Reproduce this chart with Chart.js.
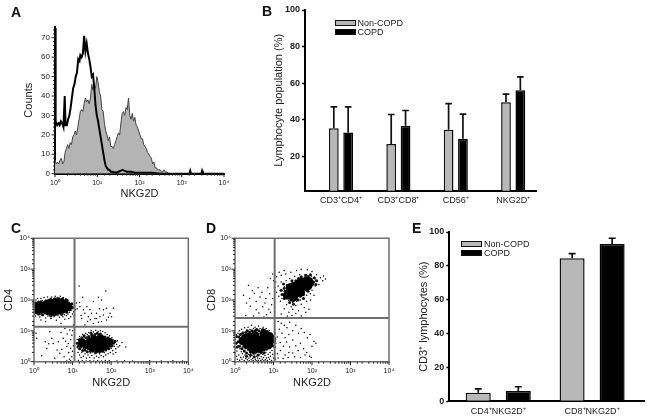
<!DOCTYPE html>
<html>
<head>
<meta charset="utf-8">
<title>NKG2D</title>
<script src="https://cdn.jsdelivr.net/npm/chart.js@4"></script>
<style>
    body { margin: 0; background: #fff; width: 648px; height: 420px; overflow: hidden; position: relative; font-family: "Liberation Sans", Arial, sans-serif; }
    canvas { position: absolute; }
    .letter { position: absolute; font-weight: bold; font-size: 14px; line-height: 14px; color: #111; }
    .swatch { position: absolute; width: 19px; border: 1px solid #111; }
    .legend-text { position: absolute; font-size: 9px; line-height: 10px; color: #222; }
</style>
</head>
<body>
<canvas id="chartA" width="240" height="210" style="left:0;top:0"></canvas>
<canvas id="chartB" width="310" height="215" style="left:250px;top:0"></canvas>
<canvas id="chartC" width="205" height="205" style="left:0;top:215px"></canvas>
<canvas id="chartD" width="200" height="205" style="left:205px;top:215px"></canvas>
<canvas id="chartE" width="243" height="205" style="left:405px;top:215px"></canvas>
<script>
'use strict'

const seriesNames = ['Non-COPD', 'COPD']
const decadeLabels = { 1: '10⁰', 10: '10¹', 100: '10²', 1000: '10³', 10000: '10⁴' }

// panel B
const categoriesB = ['CD3⁺CD4⁺', 'CD3⁺CD8⁺', 'CD56⁺', 'NKG2D⁺']
const nonCopdB = [35.3, 26.7, 34.5, 49.5]
const copdB = [32.9, 36.7, 29.6, 56.1]
const nonCopdErrB = [47, 42.8, 48.8, 54]
const copdErrB = [47, 45, 43, 63.4]

// panel E
const categoriesE = ['CD4⁺NKG2D⁺', 'CD8⁺NKG2D⁺']
const nonCopdE = [5.1, 84.5]
const copdE = [6.1, 92.9]
const nonCopdErrE = [7.3, 87.2]
const copdErrE = [8.6, 96.3]

// panel A, [log10 of NKG2D, counts]
const histShaded = [[0, 7], [0.03, 5], [0.06, 6], [0.09, 5], [0.12, 7], [0.15, 8], [0.18, 5], [0.21, 6], [0.24, 11], [0.27, 13], [0.3, 15], [0.33, 13], [0.36, 16], [0.39, 15], [0.42, 19], [0.45, 20], [0.48, 22], [0.51, 20], [0.54, 24], [0.57, 28], [0.6, 32], [0.63, 33], [0.66, 32], [0.69, 36], [0.72, 39], [0.75, 37], [0.78, 38], [0.81, 36], [0.84, 39], [0.87, 46], [0.9, 43], [0.93, 46], [0.96, 44], [0.99, 50], [1.02, 47], [1.05, 42], [1.08, 40], [1.11, 33], [1.14, 32], [1.17, 26], [1.2, 22], [1.23, 20], [1.26, 17], [1.29, 19], [1.32, 14], [1.35, 14], [1.38, 13], [1.41, 15], [1.44, 17], [1.47, 19], [1.5, 21], [1.53, 20], [1.56, 26], [1.59, 31], [1.62, 32], [1.65, 30], [1.68, 34], [1.71, 33], [1.74, 39], [1.77, 30], [1.8, 28], [1.83, 31], [1.86, 27], [1.89, 29], [1.92, 25], [1.95, 24], [1.98, 22], [2.01, 20], [2.04, 18], [2.07, 18], [2.1, 15], [2.13, 14], [2.16, 13], [2.19, 11], [2.22, 10], [2.25, 9], [2.28, 8], [2.31, 5], [2.34, 6], [2.37, 3], [2.4, 3], [2.43, 2], [2.46, 2], [2.49, 2], [2.52, 1], [2.55, 1], [2.58, 2], [2.61, 1], [2.64, 1], [2.7, 0], [4, 0]]
const histOpen = [[0, 75], [0.01, 50], [0.02, 27], [0.05, 25], [0.08, 26], [0.11, 25], [0.14, 27], [0.17, 26], [0.2, 24], [0.23, 40], [0.25, 25], [0.28, 25], [0.31, 28], [0.34, 30], [0.37, 34], [0.4, 39], [0.43, 44], [0.46, 46], [0.49, 50], [0.52, 52], [0.55, 59], [0.58, 58], [0.6, 61], [0.63, 60], [0.66, 62], [0.69, 71], [0.72, 63], [0.75, 67], [0.78, 62], [0.81, 59], [0.84, 55], [0.87, 50], [0.9, 51], [0.93, 44], [0.96, 35], [0.99, 30], [1.02, 27], [1.05, 23], [1.08, 19], [1.11, 15], [1.14, 11], [1.17, 7], [1.2, 4], [1.23, 3], [1.26, 2], [1.29, 2], [1.32, 1], [1.35, 1], [1.45, 0.5], [1.5, 1], [1.55, 1.5], [1.6, 2], [1.65, 1.5], [1.7, 1], [1.8, 1], [1.9, 0.5], [2, 0.5], [2.1, 0.5], [2.3, 0.5], [2.5, 0], [3.18, 0], [3.2, 1.5], [3.22, 0], [3.46, 0], [3.48, 1.5], [3.5, 0], [4, 0]]

// panels C and D, [log10 x, log10 y] in hundredths of a decade
const quadrantC = [105, 113]
const quadrantD = [103, 142]
const denseC = [[4, 170], [8, 175], [16, 170], [16, 182], [24, 172], [24, 180], [32, 170], [32, 182], [40, 165], [40, 178], [40, 190], [50, 165], [50, 178], [50, 190], [60, 168], [60, 180], [60, 192], [70, 170], [70, 182], [70, 192], [80, 172], [80, 185], [88, 178],
    [125, 62], [135, 55], [145, 65], [145, 50], [155, 72], [155, 60], [155, 46], [165, 70], [165, 58], [165, 44], [175, 72], [175, 60], [175, 46], [185, 65], [185, 52], [195, 64]]
const midC = [[2, 160], [3, 178], [4, 190], [8, 158], [10, 192], [14, 155], [18, 194], [20, 160], [26, 192], [28, 158], [34, 156], [36, 196], [42, 152], [44, 202], [48, 154], [54, 204], [56, 154], [62, 156], [64, 204], [68, 158], [74, 204], [76, 160], [82, 200], [85, 160], [90, 190], [92, 168], [96, 178], [98, 188], [94, 172], [30, 196], [12, 165], [6, 170], [72, 154], [52, 152], [44, 148], [86, 198], [100, 176], [22, 152], [38, 160], [66, 200],
    [112, 60], [115, 50], [118, 72], [118, 42], [122, 48], [124, 78], [126, 36], [130, 84], [132, 38], [136, 78], [138, 32], [142, 82], [146, 34], [150, 86], [152, 34], [158, 88], [160, 30], [168, 86], [170, 32], [176, 84], [178, 34], [184, 80], [186, 38], [192, 78], [194, 42], [200, 70], [202, 52], [206, 60], [198, 50], [210, 66], [130, 55], [120, 60], [128, 68], [190, 45], [148, 92], [164, 92], [172, 90]]
const dotsC = [[117, 245], [186, 229], [167, 209], [175, 200], [126, 209], [154, 195], [137, 178], [145, 168], [128, 168], [162, 157], [180, 168], [188, 173], [206, 173], [201, 146], [171, 146], [158, 140], [141, 146], [132, 157], [124, 140], [119, 178], [149, 157], [180, 151], [197, 157], [162, 140], [139, 130], [188, 135], [175, 130], [154, 124], [132, 119], [118, 192], [122, 150], [170, 172], [193, 144], [146, 136], [167, 128],
    [29, 65], [46, 76], [50, 59], [20, 19], [33, 43], [63, 65], [76, 76], [89, 59], [85, 49], [67, 27], [54, 11], [41, 97], [98, 86], [93, 103], [102, 119], [80, 108], [5, 92], [7, 76], [72, 40], [90, 30], [95, 44], [82, 66], [60, 38], [38, 58], [95, 72], [86, 90], [78, 16], [102, 52], [70, 95], [100, 100],
    [1, 168], [2, 155], [3, 185], [1, 192], [4, 148], [5, 200], [7, 160], [9, 205], [10, 152], [12, 196], [13, 158], [15, 145], [18, 205], [20, 156], [22, 198], [24, 150], [26, 208], [27, 160], [30, 142], [31, 200], [33, 155], [35, 210], [36, 148], [38, 202], [40, 150], [42, 206], [44, 140], [46, 210], [48, 152], [51, 204], [52, 146], [55, 212], [56, 150], [58, 134], [60, 208], [62, 150], [65, 206], [66, 144], [68, 212], [71, 150], [72, 204], [75, 146], [76, 208], [79, 152], [80, 138], [83, 204], [84, 150], [87, 198], [88, 155], [91, 192], [92, 160], [94, 188], [96, 166], [97, 180], [99, 172], [101, 185], [103, 162], [106, 178], [108, 168], [110, 190], [112, 172], [100, 155], [95, 146], [104, 148], [90, 140], [30, 130], [18, 135], [70, 125],
    [110, 60], [112, 45], [114, 30], [112, 72], [116, 55], [118, 22], [118, 82], [120, 40], [122, 66], [122, 14], [124, 30], [126, 88], [128, 18], [128, 42], [130, 78], [132, 26], [134, 92], [136, 12], [136, 34], [138, 88], [140, 22], [142, 95], [144, 14], [146, 28], [148, 100], [150, 20], [152, 34], [154, 96], [156, 12], [158, 26], [160, 102], [162, 18], [164, 30], [166, 98], [168, 14], [170, 26], [172, 100], [174, 20], [176, 32], [178, 98], [180, 16], [182, 30], [184, 94], [186, 22], [188, 36], [190, 88], [192, 26], [194, 40], [196, 84], [198, 30], [200, 44], [202, 78], [204, 36], [206, 70], [208, 50], [210, 62], [212, 42], [214, 56], [216, 68], [218, 48], [205, 25], [212, 30], [222, 52], [228, 62], [238, 48], [100, 34], [104, 22], [98, 16], [92, 8],
    [85, 2], [95, 3], [105, 2], [115, 4], [125, 3], [135, 2], [145, 3], [155, 2], [165, 3], [175, 2], [185, 4], [195, 3], [215, 2], [235, 3], [255, 2], [300, 3], [330, 2], [360, 3], [385, 2]]
const denseD = [[143, 222], [152, 209], [152, 232], [160, 222], [162, 249], [171, 238], [171, 259], [182, 259], [182, 245], [143, 241], [160, 238], [171, 225], [190, 262], [135, 215], [195, 255], [152, 245], [190, 245], [176, 250],
    [26, 76], [35, 65], [35, 81], [43, 54], [43, 76], [52, 49], [52, 68], [52, 86], [63, 54], [63, 70], [74, 54], [74, 72], [74, 90], [84, 65], [89, 83], [20, 68], [45, 40], [65, 42], [96, 72], [88, 55], [30, 55]]
const midD = [[122, 218], [128, 205], [130, 228], [134, 212], [136, 248], [128, 238], [140, 206], [146, 200], [150, 252], [152, 198], [158, 262], [160, 205], [165, 270], [170, 212], [172, 275], [178, 218], [182, 272], [186, 232], [190, 276], [194, 240], [198, 268], [200, 252], [204, 258], [206, 272], [196, 282], [184, 280], [175, 268], [160, 255], [148, 262], [136, 232], [120, 232], [126, 252], [164, 200], [210, 250], [212, 262], [142, 192], [152, 186], [178, 205], [190, 228], [134, 222],
    [8, 65], [10, 80], [12, 50], [14, 88], [16, 60], [18, 42], [20, 92], [22, 70], [24, 35], [26, 50], [28, 95], [30, 28], [32, 100], [36, 40], [38, 96], [40, 32], [44, 100], [46, 36], [48, 28], [52, 100], [54, 32], [56, 104], [60, 34], [62, 100], [66, 36], [68, 30], [72, 104], [76, 38], [78, 100], [82, 40], [84, 98], [86, 50], [90, 45], [92, 88], [94, 60], [96, 72], [98, 52], [100, 80], [102, 66], [6, 48], [4, 82], [3, 60], [40, 22], [60, 22], [75, 28], [30, 18], [50, 16]]
const dotsD = [[115, 290], [128, 296], [98, 284], [92, 270], [100, 262], [108, 275], [120, 280], [132, 284], [145, 290], [160, 296], [172, 300], [188, 298], [200, 292], [212, 282], [222, 272], [228, 262], [218, 250], [230, 278], [235, 268], [208, 245], [200, 232], [196, 220], [186, 215], [178, 208], [170, 200], [160, 196], [150, 192], [140, 198], [130, 205], [125, 218], [118, 230], [112, 245], [106, 258], [120, 258], [133, 262], [142, 270], [155, 276], [168, 282], [182, 282], [198, 278], [208, 268], [196, 258], [128, 242], [122, 205], [108, 225], [114, 212], [104, 240], [118, 196], [134, 185], [146, 178], [158, 182], [172, 186], [186, 196], [196, 200], [205, 215], [150, 170], [165, 165], [180, 176], [192, 170], [140, 160], [128, 172], [136, 148], [148, 150], [158, 156], [172, 148], [184, 160], [120, 155],
    [22, 215], [35, 248], [38, 205], [45, 230], [50, 222], [55, 195], [60, 240], [65, 210], [70, 225], [78, 190], [80, 205], [85, 240], [90, 220], [72, 178], [88, 170], [55, 168], [40, 180], [30, 190], [62, 158], [82, 152], [95, 185], [98, 205], [92, 160], [75, 145], [48, 148], [28, 150],
    [112, 130], [120, 125], [128, 118], [135, 110], [142, 128], [150, 100], [158, 118], [165, 92], [172, 108], [180, 95], [188, 78], [195, 88], [140, 88], [130, 78], [122, 92], [115, 105], [110, 80], [118, 62], [126, 50], [134, 64], [142, 48], [150, 70], [158, 52], [164, 36], [170, 60], [178, 42], [186, 30], [194, 18], [150, 28], [140, 30], [130, 22], [118, 36], [110, 26], [105, 48], [112, 12], [125, 10], [138, 14], [155, 16], [170, 14], [182, 22], [198, 14], [200, 50], [205, 66], [210, 60],
    [1, 72], [2, 45], [1, 28], [3, 60], [4, 18], [3, 88], [5, 35], [6, 8], [8, 52], [8, 92], [10, 22], [11, 100], [12, 5], [13, 42], [14, 70], [15, 14], [16, 32], [17, 105], [18, 8], [19, 26], [20, 48], [21, 96], [22, 15], [23, 35], [24, 4], [25, 110], [26, 22], [27, 42], [28, 10], [29, 30], [30, 102], [31, 18], [32, 6], [33, 38], [34, 112], [35, 24], [36, 12], [37, 3], [38, 32], [39, 104], [40, 16], [41, 28], [42, 6], [43, 118], [44, 20], [45, 34], [46, 10], [47, 4], [48, 108], [49, 24], [50, 14], [51, 36], [52, 112], [53, 8], [54, 26], [55, 3], [56, 18], [57, 106], [58, 32], [59, 12], [60, 5], [61, 116], [62, 22], [63, 36], [64, 10], [65, 108], [66, 26], [67, 4], [68, 16], [69, 102], [70, 34], [71, 8], [72, 24], [73, 112], [74, 14], [75, 3], [76, 36], [77, 104], [78, 20], [79, 6], [80, 30], [81, 108], [82, 12], [83, 40], [84, 4], [85, 96], [86, 24], [87, 14], [88, 42], [89, 100], [90, 8], [91, 30], [92, 18], [93, 50], [94, 92], [95, 4], [96, 36], [97, 62], [98, 24], [99, 82], [100, 12], [101, 48], [102, 72], [103, 28], [104, 92], [105, 8], [106, 60]]

function toPoints(pairs) {
    return pairs.map(p => ({ x: 10 ** (p[0] / 100), y: 10 ** (p[1] / 100) }))
}

function histPoints(pairs) {
    return pairs.map(p => ({ x: 10 ** p[0], y: p[1] }))
}

function barPoints(values) {
    return values.map((val, idx) => ({ x: idx, y: val }))
}

// upper error bars, from the value in dataset.errTop
const errorBars = {
    id: 'errorBars',
    beforeDatasetsDraw(chart) {
        const ctx = chart.ctx
        chart.data.datasets.forEach((dataset, dsIdx) => {
            if (!dataset.errTop) return
            const meta = chart.getDatasetMeta(dsIdx)
            meta.data.forEach((bar, idx) => {
                const yTop = chart.scales.y.getPixelForValue(dataset.errTop[idx])
                ctx.save()
                ctx.strokeStyle = '#111'
                ctx.lineWidth = dataset.errWidth
                ctx.beginPath()
                ctx.moveTo(bar.x, bar.y)
                ctx.lineTo(bar.x, yTop)
                ctx.moveTo(bar.x - dataset.errCap, yTop)
                ctx.lineTo(bar.x + dataset.errCap, yTop)
                ctx.stroke()
                ctx.restore()
            })
        })
    }
}

// long ticks on labelled values, short ones on the rest
const flowTicks = {
    id: 'flowTicks',
    afterDatasetsDraw(chart) {
        const ctx = chart.ctx
        ctx.save()
        ctx.strokeStyle = '#222'
        ctx.lineWidth = 1
        ctx.beginPath()
        Object.values(chart.scales).forEach(scale => {
            scale.ticks.forEach((tick, idx) => {
                const len = tick.label ? 3.5 : 2
                const pos = scale.getPixelForTick(idx)
                if (scale.axis === 'x') {
                    ctx.moveTo(pos, scale.top)
                    ctx.lineTo(pos, scale.top + len)
                } else {
                    ctx.moveTo(scale.right, pos)
                    ctx.lineTo(scale.right - len, pos)
                }
            })
        })
        ctx.stroke()
        ctx.restore()
    }
}

Chart.defaults.font.family = '"Liberation Sans", Arial, sans-serif'
Chart.defaults.color = '#222'
Chart.defaults.animation = false
Chart.defaults.plugins.legend.display = false
Chart.defaults.plugins.tooltip.enabled = false

function axisTitle(text, size, pad) {
    return { display: true, text, font: { size }, padding: pad }
}

function logAxis(extent, title, padding) {
    return {
        type: 'logarithmic',
        min: 1,
        max: 10000,
        afterFit: scale => { if (scale.axis === 'x') scale.height = extent; else scale.width = extent },
        border: { display: false },
        grid: { display: false, drawTicks: false },
        title,
        ticks: {
            autoSkip: false,
            maxRotation: 0,
            padding,
            font: { size: 7 },
            callback: val => decadeLabels[val] || ''
        }
    }
}

function renderHistogram() {
    const yLabels = val => (val % 10 === 0 ? String(val) : '')
    new Chart(document.getElementById('chartA'), {
        type: 'line',
        data: {
            datasets: [
                { data: histPoints(histOpen), borderColor: '#000', borderWidth: 2, pointRadius: 0, fill: false },
                { data: histPoints(histShaded), borderColor: '#444', borderWidth: 1, pointRadius: 0, fill: 'origin', backgroundColor: '#b4b4b4' }
            ]
        },
        options: {
            responsive: false,
            layout: { padding: { top: 26.7, right: 16 } },
            scales: {
                x: {
                    ...logAxis(36.3, axisTitle('NKG2D', 11, { bottom: 9.5 }), 5),
                    border: { display: true, color: '#000', width: 2 }
                },
                y: {
                    min: 0,
                    max: 75.7,
                    afterFit: scale => { scale.width = 55 },
                    border: { display: true, color: '#000', width: 2 },
                    grid: { display: false, drawTicks: false },
                    title: axisTitle('Counts', 11, { top: 22 }),
                    ticks: { stepSize: 2, includeBounds: false, autoSkip: false, padding: 5, font: { size: 8 }, callback: yLabels }
                }
            }
        },
        plugins: [flowTicks]
    })
}

function renderBars(canvasId, box, categories, nonCopd, copd, nonCopdErr, copdErr) {
    const cap = box.cap
    new Chart(document.getElementById(canvasId), {
        type: 'bar',
        data: {
            datasets: [
                { label: seriesNames[0], data: barPoints(nonCopd), errTop: nonCopdErr, errWidth: 1.7, errCap: cap, backgroundColor: '#b8b8b8', borderColor: '#111', borderWidth: 1.5 },
                { label: seriesNames[1], data: barPoints(copd), errTop: copdErr, errWidth: 1.7, errCap: cap, backgroundColor: '#000', borderColor: '#000', borderWidth: 1.5 }
            ]
        },
        options: {
            responsive: false,
            categoryPercentage: box.catPct,
            barPercentage: box.barPct,
            layout: { padding: { top: box.top, right: box.right } },
            scales: {
                x: {
                    type: 'linear',
                    offset: false,
                    min: box.xMin,
                    max: box.xMax,
                    afterFit: scale => { scale.height = box.bottom },
                    border: { display: true, color: '#000', width: 2 },
                    grid: { display: false, drawTicks: false },
                    ticks: {
                        stepSize: 1,
                        includeBounds: false,
                        autoSkip: false,
                        maxRotation: 0,
                        padding: 4.5,
                        font: { size: 9 },
                        callback: val => categories[val]
                    }
                },
                y: {
                    min: box.yMin,
                    max: 100,
                    afterFit: scale => { scale.width = box.left },
                    border: { display: true, color: '#000', width: 2 },
                    grid: { drawOnChartArea: false, tickLength: 3, tickWidth: 1.5, tickColor: '#000' },
                    title: axisTitle(box.title, 11, { top: box.titlePad }),
                    ticks: { stepSize: 20, includeBounds: false, padding: 2, font: { size: 9, weight: 'bold' } }
                }
            }
        },
        plugins: [errorBars]
    })
}

function renderFlow(canvasId, box, yTitle, quadrant, dense, mid, dots) {
    const lineStyle = { showLine: true, pointRadius: 0, fill: false, borderColor: '#707070', clip: false }
    new Chart(document.getElementById(canvasId), {
        type: 'scatter',
        data: {
            datasets: [
                { ...lineStyle, borderWidth: 1.5, data: toPoints([[0, 0], [400, 0], [400, 400], [0, 400], [0, 0]]) },
                { ...lineStyle, borderWidth: 2, data: toPoints([[quadrant[0], 0], [quadrant[0], 400]]) },
                { ...lineStyle, borderWidth: 2, data: toPoints([[0, quadrant[1]], [400, quadrant[1]]]) },
                { data: toPoints(dense), pointRadius: 4.2, pointBackgroundColor: '#000', pointBorderWidth: 0 },
                { data: toPoints(mid), pointRadius: 1.5, pointBackgroundColor: '#111', pointBorderWidth: 0 },
                { data: toPoints(dots), pointRadius: 0.75, pointBackgroundColor: '#000', pointBorderWidth: 0 }
            ]
        },
        options: {
            responsive: false,
            layout: { padding: { top: box.top, right: box.right } },
            scales: {
                x: logAxis(box.bottom, axisTitle('NKG2D', 11, { bottom: 30.5 }), 5),
                y: logAxis(box.left, axisTitle(yTitle, 11, { top: box.titlePad }), 4)
            }
        },
        plugins: [flowTicks]
    })
}

function renderLegend(left, top1, top2) {
    const colors = ['#b8b8b8', '#000']
    const tops = [top1, top2]
    seriesNames.forEach((name, idx) => {
        const elSwatch = document.createElement('div')
        elSwatch.className = 'swatch'
        elSwatch.style.cssText = `left:${left}px;top:${tops[idx]}px;height:4px;background:${colors[idx]}`
        document.body.appendChild(elSwatch)
        const elText = document.createElement('div')
        elText.className = 'legend-text'
        elText.innerText = name
        elText.style.cssText = `left:${left + 23}px;top:${tops[idx] - 2}px`
        document.body.appendChild(elText)
    })
}

function renderLetters() {
    const letters = [['A', 11, 5], ['B', 262, 4], ['C', 11, 221], ['D', 206, 221], ['E', 412, 221]]
    letters.forEach(([text, left, top]) => {
        const elLetter = document.createElement('div')
        elLetter.className = 'letter'
        elLetter.innerText = text
        elLetter.style.cssText = `left:${left}px;top:${top}px`
        document.body.appendChild(elLetter)
    })
}

renderHistogram()
renderBars('chartB', { left: 55, top: 10, right: 23.3, bottom: 24.3, xMin: -0.627, xMax: 3.41, yMin: 1.1, catPct: 0.5, barPct: 0.68, cap: 3.3, title: 'Lymphocyte population (%)', titlePad: 22 }, categoriesB, nonCopdB, copdB, nonCopdErrB, copdErrB)
renderFlow('chartC', { left: 34, top: 23.3, right: 16.7, bottom: 58.3, titlePad: 2.4 }, 'CD4', quadrantC, denseC, midC, dotsC)
renderFlow('chartD', { left: 30, top: 23.3, right: 16, bottom: 58.3, titlePad: 0.4 }, 'CD8', quadrantD, denseD, midD, dotsD)
renderBars('chartE', { left: 44.3, top: 17, right: 4, bottom: 18.7, xMin: -0.522, xMax: 1.553, yMin: 0, catPct: 0.853, barPct: 0.625, cap: 3.5, title: 'CD3⁺ lymphocytes (%)', titlePad: 12.4 }, categoriesE, nonCopdE, copdE, nonCopdErrE, copdErrE)
renderLegend(334.5, 19.5, 29)
renderLegend(461, 240.5, 250)
renderLetters()
</script>
</body>
</html>
